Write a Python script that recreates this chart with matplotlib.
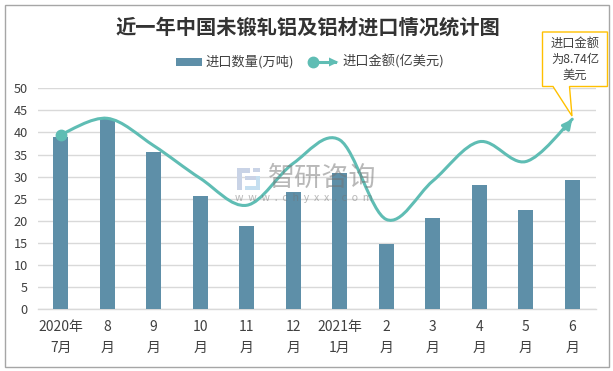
import matplotlib
matplotlib.use("Agg")
import numpy as np
import matplotlib.pyplot as plt
from matplotlib.path import Path
from matplotlib.patches import PathPatch, Rectangle, Polygon
from matplotlib.lines import Line2D

plt.rcParams['font.family'] = ['Noto Sans CJK SC', 'DejaVu Sans']

categories = ['2020年\n7月', '8\n月', '9\n月', '10\n月', '11\n月', '12\n月',
              '2021年\n1月', '2\n月', '3\n月', '4\n月', '5\n月', '6\n月']
quantity = [39.0, 43.0, 35.6, 25.6, 18.8, 26.4, 30.8, 14.8, 20.6, 28.0, 22.4, 29.2]
amount = [39.5, 43.2, 37.0, 29.6, 23.5, 33.0, 38.3, 20.3, 29.0, 37.9, 33.4, 43.0]
yticks = [0, 5, 10, 15, 20, 25, 30, 35, 40, 45, 50]
title = '近一年中国未锻轧铝及铝材进口情况统计图'
legend_labels = ['进口数量(万吨)', '进口金额(亿美元)']
callout = '进口金额\n为8.74亿\n美元'

BAR = '#5E8FA8'
LINE = '#5FBDB4'
GRID = '#D9D9D9'
TEXT = '#404040'
W, H = 613, 371

fig = plt.figure(figsize=(W / 100, H / 100), dpi=100, facecolor='white')
ax = fig.add_axes([37.5 / W, 1 - 309 / H, 558 / W, 220.7 / H])
x = np.arange(len(categories))
ax.set_xlim(-0.5, len(categories) - 0.5)
ax.set_ylim(0, 50)
ax.set_yticks(yticks)
ax.grid(axis='y', color=GRID, lw=1)
ax.set_axisbelow(True)
for s in ['top', 'right', 'left']:
    ax.spines[s].set_visible(False)
ax.spines['bottom'].set_color(GRID)
ax.spines['bottom'].set_linewidth(1)
ax.tick_params(axis='y', length=0, labelsize=9.2, labelcolor=TEXT, pad=7)
ax.set_xticks(x)
ax.set_xticklabels(categories, linespacing=1.62)
ax.tick_params(axis='x', length=0, labelsize=10, labelcolor=TEXT, pad=8)
ax.patch.set_alpha(0)

ax.bar(x, quantity, width=0.32, color=BAR, zorder=3)

# smoothed line (cubic Bezier through the data points)
a = np.array(amount)
k = 1 / 6
verts = [(x[0], a[0])]
codes = [Path.MOVETO]
n = len(a)
for i in range(n - 1):
    p0 = a[max(i - 1, 0)]
    p1, p2 = a[i], a[i + 1]
    p3 = a[min(i + 2, n - 1)]
    x0 = x[max(i - 1, 0)]
    x3 = x[min(i + 2, n - 1)]
    verts += [(x[i] + (x[i + 1] - x0) * k, p1 + (p2 - p0) * k),
              (x[i + 1] - (x3 - x[i]) * k, p2 - (p3 - p1) * k),
              (x[i + 1], p2)]
    codes += [Path.CURVE4] * 3
ax.add_patch(PathPatch(Path(verts, codes), fc='none', ec=LINE, lw=2.2, zorder=4,
                       capstyle='round', clip_on=False))
ax.plot([x[0]], [a[0]], 'o', ms=7.5, color=LINE, zorder=5)
ax.annotate('', xy=(x[-1], a[-1]), xytext=(x[-1] - 0.17, a[-1] - 2.3),
            arrowprops=dict(arrowstyle='-|>,head_width=0.28,head_length=0.55', color=LINE, lw=2.2,
                            shrinkA=0, shrinkB=0), zorder=5)

# watermark, semi-transparent over the plot
wm = (0.45, 0.45, 0.45, 0.5)
fig.text(268 / W, 1 - 178.5 / H, '智研咨询', fontsize=19.5, color=wm, va='center', ha='left',
         fontweight='light', zorder=8)
fig.text(235 / W, 1 - 198 / H, 'w  w  w  .  c  h  y  x  x  .  c  o  m', fontsize=7.6,
         color=wm, va='center', ha='left', zorder=8)
for (x0, y0, w0, h0, c) in [(237, 168, 13, 5, '#C9D3E6'), (237, 168, 5, 22, '#C9D3E6'),
                            (245, 176, 15, 4, '#C9D3E6'), (253, 168, 7, 4, '#C9D3E6'),
                            (245, 186, 15, 4, '#C5DFF0'), (256, 176, 4, 14, '#C5DFF0')]:
    fig.add_artist(Rectangle((x0 / W, 1 - (y0 + h0) / H), w0 / W, h0 / H,
                             transform=fig.transFigure, fc=c, ec='none', zorder=1))

# title
fig.text(307.5 / W, 1 - 27.5 / H, title, fontsize=14.6, fontweight='bold', color='#333333',
         ha='center', va='center')

# legend
fig.add_artist(Rectangle((176 / W, 1 - 66 / H), 26 / W, 8 / H, transform=fig.transFigure,
                         fc=BAR, ec='none'))
fig.text(205.5 / W, 1 - 61.5 / H, legend_labels[0], fontsize=9.5, color=TEXT, ha='left', va='center')
fig.add_artist(Line2D([313 / W, 335 / W], [1 - 62 / H] * 2, transform=fig.transFigure, color=LINE, lw=2.2))
fig.add_artist(Line2D([313 / W], [1 - 62 / H], transform=fig.transFigure, color=LINE, marker='o', ms=7.5))
fig.add_artist(Polygon([(329 / W, 1 - 57.5 / H), (338.5 / W, 1 - 62 / H), (329 / W, 1 - 66.5 / H)],
                       closed=True, transform=fig.transFigure, fc=LINE, ec='none'))
fig.text(342.5 / W, 1 - 61.5 / H, legend_labels[1], fontsize=9.5, color=TEXT, ha='left', va='center')

# callout
Y = '#FFC000'
fig.add_artist(Polygon([(x_ / W, 1 - y_ / H) for x_, y_ in
                        [(542.5, 32), (607.5, 32), (607.5, 86.5), (569.5, 86.5), (572, 116),
                         (553, 86.5), (542.5, 86.5)]],
                       closed=True, transform=fig.transFigure, fc='white', ec=Y, lw=1, zorder=6))
fig.text(575 / W, 1 - 59.5 / H, callout, fontsize=8.8, color=TEXT, ha='center', va='center',
         linespacing=1.3, zorder=7)

# outer border
fig.add_artist(Rectangle((5.5 / W, 1 - 366.5 / H), 603.5 / W, 362 / H, transform=fig.transFigure,
                         fc='none', ec='#A6A6A6', lw=1))

fig.savefig('out.png', dpi=100, facecolor='white')
